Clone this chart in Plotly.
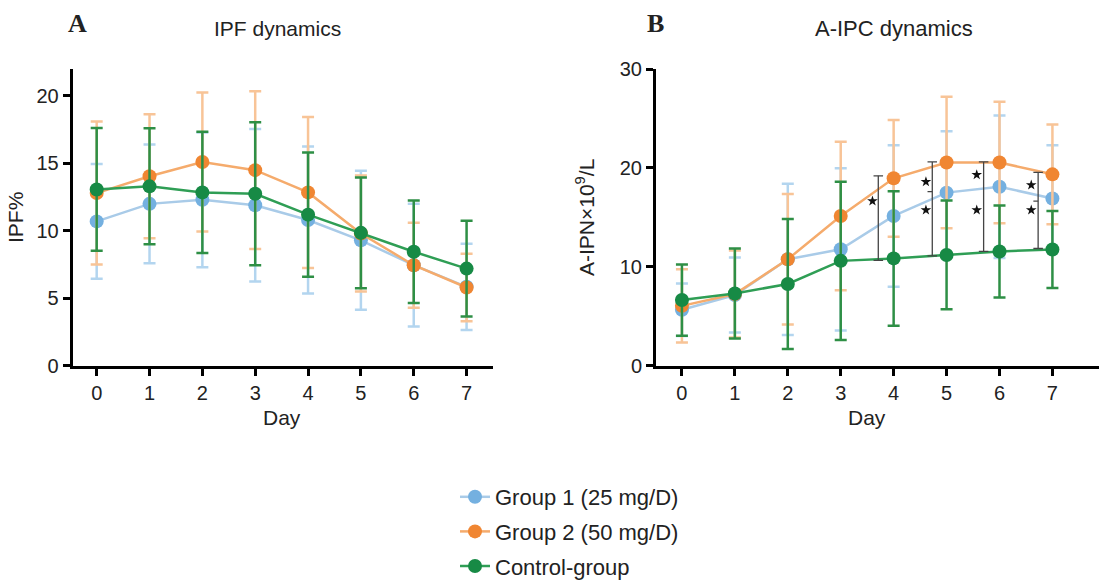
import plotly.graph_objects as go

# ---------------- data ----------------
days = [0, 1, 2, 3, 4, 5, 6, 7]
day_ticks = ["0", "1", "2", "3", "4", "5", "6", "7"]

# Panel A: IPF %
ipf_g1_mean = [10.7, 12.0, 12.3, 11.9, 10.8, 9.3, 7.45, 5.85]
ipf_g1_sd = [4.25, 4.4, 5.0, 5.65, 5.45, 5.15, 4.55, 3.2]
ipf_g2_mean = [12.8, 14.05, 15.1, 14.5, 12.85, 9.8, 7.45, 5.8]
ipf_g2_sd = [5.3, 4.6, 5.15, 5.85, 5.6, 4.3, 3.15, 2.5]
ipf_ctrl_mean = [13.07, 13.3, 12.85, 12.75, 11.2, 9.85, 8.45, 7.2]
ipf_ctrl_sd = [4.55, 4.3, 4.5, 5.3, 4.6, 4.1, 3.8, 3.55]

# Panel B: A-IPC (x10^9/L)
ipc_g1_mean = [5.65, 7.15, 10.76, 11.77, 15.14, 17.5, 18.1, 16.9]
ipc_g1_sd = [2.65, 3.8, 7.65, 8.2, 7.15, 6.2, 7.2, 5.4]
ipc_g2_mean = [6.05, 7.25, 10.76, 15.14, 18.95, 20.55, 20.55, 19.35]
ipc_g2_sd = [3.7, 4.4, 6.6, 7.5, 5.9, 6.65, 6.15, 5.05]
ipc_ctrl_mean = [6.64, 7.3, 8.26, 10.6, 10.85, 11.2, 11.55, 11.75]
ipc_ctrl_sd = [3.6, 4.55, 6.57, 8.0, 6.8, 5.5, 4.65, 3.9]

# significance brackets (panel B)
sig_x = [3.71, 4.73, 5.70, 6.73]
sig_top = [19.2, 20.6, 20.6, 19.55]
sig_bottom = [10.65, 11.1, 11.55, 11.85]
sig_mid = [None, 17.6, None, 16.65]
star_x = [3.60, 4.61, 4.61, 5.57, 5.57, 6.60, 6.60]
star_y = [16.65, 18.6, 15.74, 19.3, 15.74, 18.27, 15.74]

group_names = ["Group 1 (25 mg/D)", "Group 2 (50 mg/D)", "Control-group"]

# ---------------- style ----------------
FONT = "Liberation Sans, Arial, sans-serif"
line_cols = ["#a9cbe8", "#f5ab6c", "#2f9e55"]
marker_cols = ["#74b0e0", "#f08632", "#178a45"]
err_cols = ["#b3d5ef", "#f8c497", "#2e8f45"]

fig = go.Figure()

panels = [
    ("x", "y", [ipf_g1_mean, ipf_g2_mean, ipf_ctrl_mean], [ipf_g1_sd, ipf_g2_sd, ipf_ctrl_sd], True),
    ("x2", "y2", [ipc_g1_mean, ipc_g2_mean, ipc_ctrl_mean], [ipc_g1_sd, ipc_g2_sd, ipc_ctrl_sd], False),
]

for xa, ya, means, sds, show in panels:
    for i in range(3):
        fig.add_trace(go.Scatter(
            x=days, y=means[i], xaxis=xa, yaxis=ya,
            mode="lines+markers", name=group_names[i],
            legendgroup=group_names[i], showlegend=show,
            line=dict(color=line_cols[i], width=2.5),
            marker=dict(color=marker_cols[i], size=14),
            error_y=dict(type="data", array=sds[i], visible=True,
                         color=err_cols[i], thickness=2.5, width=6),
        ))

# brackets
bx, by = [], []
cap = 0.09
for xv, top, bot, mid in zip(sig_x, sig_top, sig_bottom, sig_mid):
    bx += [xv, xv, None, xv - cap, xv + cap, None, xv - cap, xv + cap, None]
    by += [bot, top, None, top, top, None, bot, bot, None]
    if mid is not None:
        bx += [xv - cap, xv, None]
        by += [mid, mid, None]
fig.add_trace(go.Scatter(x=bx, y=by, xaxis="x2", yaxis="y2", mode="lines",
                         line=dict(color="#444444", width=1.3), showlegend=False,
                         hoverinfo="skip"))
fig.add_trace(go.Scatter(x=star_x, y=star_y, xaxis="x2", yaxis="y2", mode="markers",
                         marker=dict(symbol="star", size=8, color="#111111"),
                         showlegend=False, hoverinfo="skip"))

W, H = 1099, 586
ydom = [1 - 365.7 / H, 1 - 69 / H]
axis_common = dict(showline=True, linecolor="black", linewidth=3, ticks="outside",
                   ticklen=7, tickwidth=2.5, tickcolor="black", showgrid=False,
                   zeroline=False, tickfont=dict(family=FONT, size=20, color="#222222"))

fig.update_layout(
    width=W, height=H, margin=dict(l=0, r=0, t=0, b=0, autoexpand=False),
    paper_bgcolor="white", plot_bgcolor="white",
    font=dict(family=FONT, color="#222222"),
    xaxis=dict(domain=[72.7 / W, 493 / W], range=[-0.454, 7.5], anchor="y",
               tickvals=days, ticktext=day_ticks, **axis_common),
    yaxis=dict(domain=ydom, range=[0, 22], anchor="x", tickvals=[0, 5, 10, 15, 20],
               title=dict(text="IPF%", font=dict(family=FONT, size=21, color="#222222"), standoff=8),
               **axis_common),
    xaxis2=dict(domain=[656 / W, 1.0], range=[-0.49, 7.88], anchor="y2",
                tickvals=days, ticktext=day_ticks, **axis_common),
    yaxis2=dict(domain=ydom, range=[0, 30], anchor="x2", tickvals=[0, 10, 20, 30],
                title=dict(text="A-IPN×10<sup>9</sup>/L", font=dict(family=FONT, size=21, color="#222222"), standoff=20),
                **axis_common),
    legend=dict(x=455 / W, y=1 - 476 / H, xanchor="left", yanchor="top",
                font=dict(family=FONT, size=22, color="#222222"),
                traceorder="grouped", tracegroupgap=3, bgcolor="rgba(0,0,0,0)"),
    showlegend=True,
)

ann = [
    dict(text="IPF dynamics", x=277 / W, y=1 - 29 / H, size=21),
    dict(text="A-IPC dynamics", x=894 / W, y=1 - 29 / H, size=22),
    dict(text="Day", x=282 / W, y=1 - 417 / H, size=21),
    dict(text="Day", x=867 / W, y=1 - 417 / H, size=21),
]
for a in ann:
    fig.add_annotation(xref="paper", yref="paper", x=a["x"], y=a["y"], text=a["text"],
                       showarrow=False, xanchor="center", yanchor="middle",
                       font=dict(family=FONT, size=a["size"], color="#222222"))
for letter, lx in [("A", 77), ("B", 655)]:
    fig.add_annotation(xref="paper", yref="paper", x=lx / W, y=1 - 24 / H, text="<b>%s</b>" % letter,
                       showarrow=False, xanchor="center", yanchor="middle",
                       font=dict(family="Liberation Serif, Times New Roman, serif", size=26, color="#222222"))

fig.write_html("out.html", config={"displayModeBar": False},
               post_script="document.body.style.margin='0px';document.body.style.overflow='hidden';")
